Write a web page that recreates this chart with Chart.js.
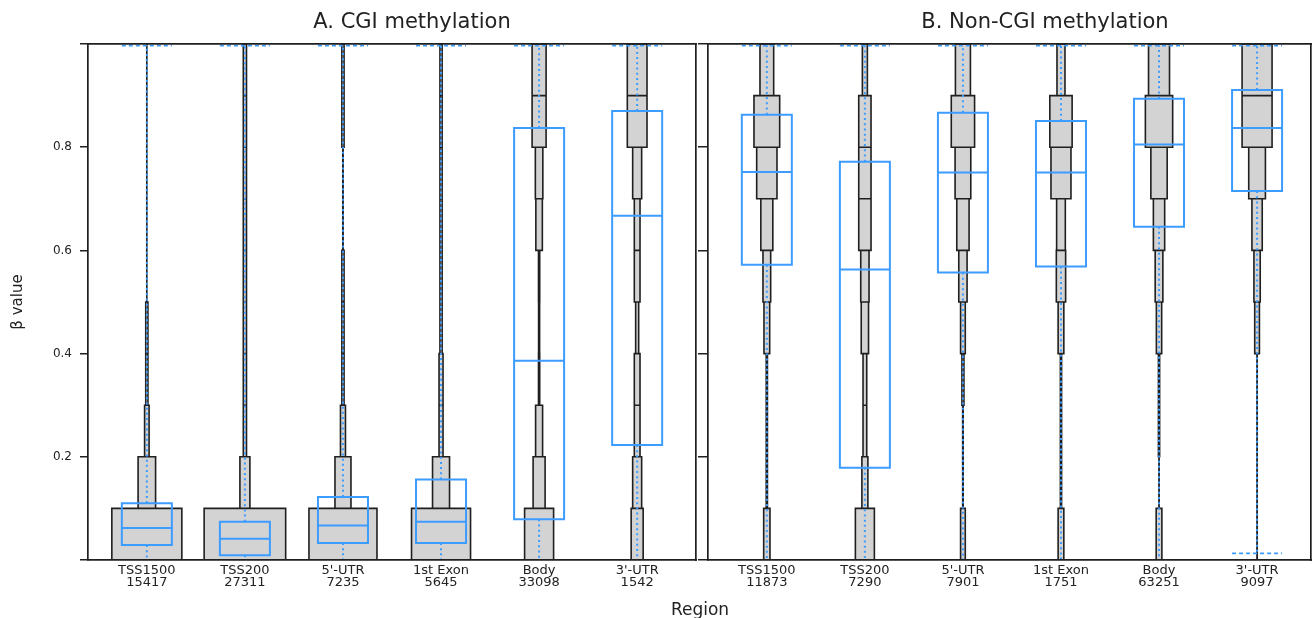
<!DOCTYPE html>
<html>
<head>
<meta charset="utf-8">
<title>CGI / non-CGI methylation by region</title>
<script src="https://cdn.jsdelivr.net/npm/chart.js@4.4.1/dist/chart.umd.min.js"></script>
<style>
  html, body { margin: 0; padding: 0; background: #fff; overflow: hidden; }
  #wrap { position: relative; width: 1314px; height: 618px; overflow: hidden; }
  #wrap canvas { position: absolute; top: 0; }
  #cgiChart { left: 0; }
  #nonCgiChart { left: 696px; }
</style>
</head>
<body>
<div id="wrap">
  <canvas id="cgiChart" width="824" height="618"></canvas>
  <canvas id="nonCgiChart" width="698" height="618"></canvas>
</div>
<script>
const regions = ['TSS1500', 'TSS200', "5'-UTR", '1st Exon', 'Body', "3'-UTR"];
const cgiProbes = [15417, 27311, 7235, 5645, 33098, 1542];
const nonCgiProbes = [11873, 7290, 7901, 1751, 63251, 9097];
const betaBins = [0, 0.1, 0.2, 0.3, 0.4, 0.5, 0.6, 0.7, 0.8, 0.9, 1.0];

// share of probes (%) in each beta bin, from 0-0.1 up to 0.9-1.0
const cgiShare = [
  [70, 17.5, 4.5, 2.2, 2.2, 0.3, 0.3, 0.3, 0.3, 0.3],
  [81.5, 10, 3.2, 3.2, 3.2, 3.2, 3.2, 3.2, 3.2, 3.2],
  [68, 16, 5, 2.2, 2.2, 2.2, 0.3, 0.3, 2.2, 2.2],
  [59, 17, 4, 4, 2.2, 2.2, 2.2, 2.2, 2.2, 2.2],
  [29, 12, 7, 1.2, 1, 1.2, 6.5, 7.5, 14, 14],
  [12, 9, 5.7, 5.7, 3, 5.7, 5.7, 9, 19.7, 19.7]
];
const nonCgiShare = [
  [6.3, 1.2, 1.2, 1.2, 5.7, 7.7, 12, 20.3, 25.7, 13.7],
  [19, 6, 3.7, 3.7, 7.3, 8.3, 12.3, 12.3, 12.3, 5],
  [4.7, 0.5, 0.5, 2, 4.7, 8.3, 12.3, 15.7, 23.3, 15],
  [5.7, 1.2, 1.2, 1.2, 5.7, 9.3, 8.7, 20, 22.3, 8],
  [5.7, 0.2, 1.2, 1.2, 5.3, 7.7, 11.3, 16.3, 27.3, 21],
  [0.2, 0.2, 0.2, 0.2, 4.7, 6.3, 10.3, 16.7, 30, 30]
];

// box plot stats (beta value)
const cgiQ1 = [0.029, 0.009, 0.033, 0.033, 0.079, 0.223];
const cgiMedian = [0.062, 0.041, 0.067, 0.074, 0.386, 0.667];
const cgiQ3 = [0.110, 0.074, 0.122, 0.156, 0.837, 0.870];
const cgiLow = [0, 0, 0, 0, 0, 0];
const cgiHigh = [0.997, 0.997, 0.997, 0.997, 0.997, 0.997];

const nonCgiQ1 = [0.572, 0.179, 0.557, 0.569, 0.646, 0.715];
const nonCgiMedian = [0.752, 0.563, 0.751, 0.751, 0.805, 0.837];
const nonCgiQ3 = [0.863, 0.772, 0.867, 0.851, 0.894, 0.911];
const nonCgiLow = [0, 0, 0, 0, 0, 0.013];
const nonCgiHigh = [0.997, 0.997, 0.997, 0.997, 0.997, 0.997];

Chart.defaults.font.family = "'DejaVu Sans', sans-serif";
Chart.defaults.color = '#222';

const ink = '#1f1f1f';
const boxBlue = '#3d9cff';
const unitsPerPct = 0.0102; // column width in x units per % of probes
const boxHalf = 0.255;

function buildDatasets(share, q1, med, q3, low, high) {
  const gap = function (c) { return {x: c, y: null}; };
  const columns = [], boxes = [], whiskers = [], caps = [];
  share.forEach(function (bins, i) {
    const c = i + 1;
    bins.forEach(function (pct, b) {
      const h = pct * unitsPerPct / 2;
      const lo = betaBins[b], hi = betaBins[b + 1];
      columns.push({x: c - h, y: lo}, {x: c + h, y: lo}, {x: c + h, y: hi}, {x: c - h, y: hi}, {x: c - h, y: lo}, gap(c));
    });
    boxes.push({x: c - boxHalf, y: q1[i]}, {x: c + boxHalf, y: q1[i]}, {x: c + boxHalf, y: q3[i]},
      {x: c - boxHalf, y: q3[i]}, {x: c - boxHalf, y: q1[i]}, gap(c),
      {x: c - boxHalf, y: med[i]}, {x: c + boxHalf, y: med[i]}, gap(c));
    whiskers.push({x: c, y: q3[i]}, {x: c, y: high[i]}, gap(c), {x: c, y: q1[i]}, {x: c, y: low[i]}, gap(c));
    caps.push({x: c - boxHalf, y: high[i]}, {x: c + boxHalf, y: high[i]}, gap(c),
      {x: c - boxHalf, y: low[i]}, {x: c + boxHalf, y: low[i]}, gap(c));
  });
  const line = {showLine: true, pointRadius: 0, pointHoverRadius: 0, spanGaps: false, fill: false, xAxisID: 'x', yAxisID: 'y'};
  return [
    Object.assign({}, line, {label: 'whiskers', data: whiskers, borderColor: boxBlue, borderWidth: 2, borderDash: [2, 3.2], order: 0}),
    Object.assign({}, line, {label: 'caps', data: caps, borderColor: boxBlue, borderWidth: 1.8, borderDash: [4, 3], order: 1}),
    Object.assign({}, line, {label: 'boxes', data: boxes, borderColor: boxBlue, borderWidth: 2, borderCapStyle: 'square', order: 2}),
    Object.assign({}, line, {label: 'distribution', data: columns, borderColor: ink, borderWidth: 1.6,
      backgroundColor: '#d3d3d3', fill: 'shape', borderCapStyle: 'square', order: 3})
  ];
}

function buildScales(counts, xMax, leftWidth, tickLen, padWidth, showYLabels) {
  const frame = {display: true, color: ink, width: 1.7, z: 1};
  return {
    x: {
      type: 'linear', position: 'bottom', min: 0.4, max: xMax,
      afterFit: function (s) { s.height = 58; },
      afterBuildTicks: function (s) { s.ticks = regions.map(function (r, i) { return {value: i + 1}; }); },
      grid: {display: false, drawTicks: false},
      border: frame,
      ticks: {
        autoSkip: false, maxRotation: 0, padding: 5, font: {size: 13, lineHeight: 0.92},
        callback: function (v) { return [regions[v - 1], String(counts[v - 1])]; }
      }
    },
    y: {
      type: 'linear', position: 'left', min: 0, max: 1,
      afterFit: function (s) { s.width = leftWidth; },
      grid: {display: true, drawOnChartArea: false, drawTicks: true, tickLength: tickLen, color: ink, lineWidth: 1.5},
      border: frame,
      ticks: {
        stepSize: 0.2, padding: 8, font: {size: 12},
        callback: function (v) { return showYLabels && v > 0.05 && v < 0.95 ? v.toFixed(1) : ''; }
      },
      title: {display: showYLabels, text: 'β value', font: {size: 15}, padding: {top: 9, bottom: 0}}
    },
    xTop: {
      type: 'linear', axis: 'x', position: 'top',
      afterFit: function (s) { s.height = 0; },
      ticks: {display: false}, grid: {display: false, drawTicks: false}, border: frame
    },
    yPad: {
      type: 'linear', axis: 'y', position: 'right',
      afterFit: function (s) { s.width = padWidth; },
      ticks: {display: false}, grid: {display: false, drawTicks: false}, border: frame
    }
  };
}

function buildOptions(title, scales) {
  return {
    responsive: false,
    animation: false,
    events: [],
    plugins: {
      legend: {display: false},
      tooltip: {enabled: false},
      title: {display: true, text: title, color: '#222', font: {size: 21, weight: 'normal', lineHeight: 1.2}, padding: {top: 9.9, bottom: 8.9}}
    },
    scales: scales
  };
}

// shared x-axis title, centred between the two panels
const regionLabel = {
  id: 'regionLabel',
  afterDraw: function (chart) {
    const ctx = chart.ctx;
    ctx.save();
    ctx.font = "17px 'DejaVu Sans', sans-serif";
    ctx.fillStyle = '#222';
    ctx.textAlign = 'center';
    ctx.textBaseline = 'alphabetic';
    ctx.fillText('Region', chart.chartArea.right + 4, 615);
    ctx.restore();
  }
};

// A. CGI methylation
new Chart(document.getElementById('cgiChart'), {
  type: 'scatter',
  data: {datasets: buildDatasets(cgiShare, cgiQ1, cgiMedian, cgiQ3, cgiLow, cgiHigh)},
  options: buildOptions('A. CGI methylation', buildScales(cgiProbes, 6.6, 88, 8, 128, true)),
  plugins: [regionLabel]
});

// B. Non-CGI methylation
new Chart(document.getElementById('nonCgiChart'), {
  type: 'scatter',
  data: {datasets: buildDatasets(nonCgiShare, nonCgiQ1, nonCgiMedian, nonCgiQ3, nonCgiLow, nonCgiHigh)},
  options: buildOptions('B. Non-CGI methylation', buildScales(nonCgiProbes, 6.55, 12, 10, 83, false))
});
</script>
</body>
</html>
